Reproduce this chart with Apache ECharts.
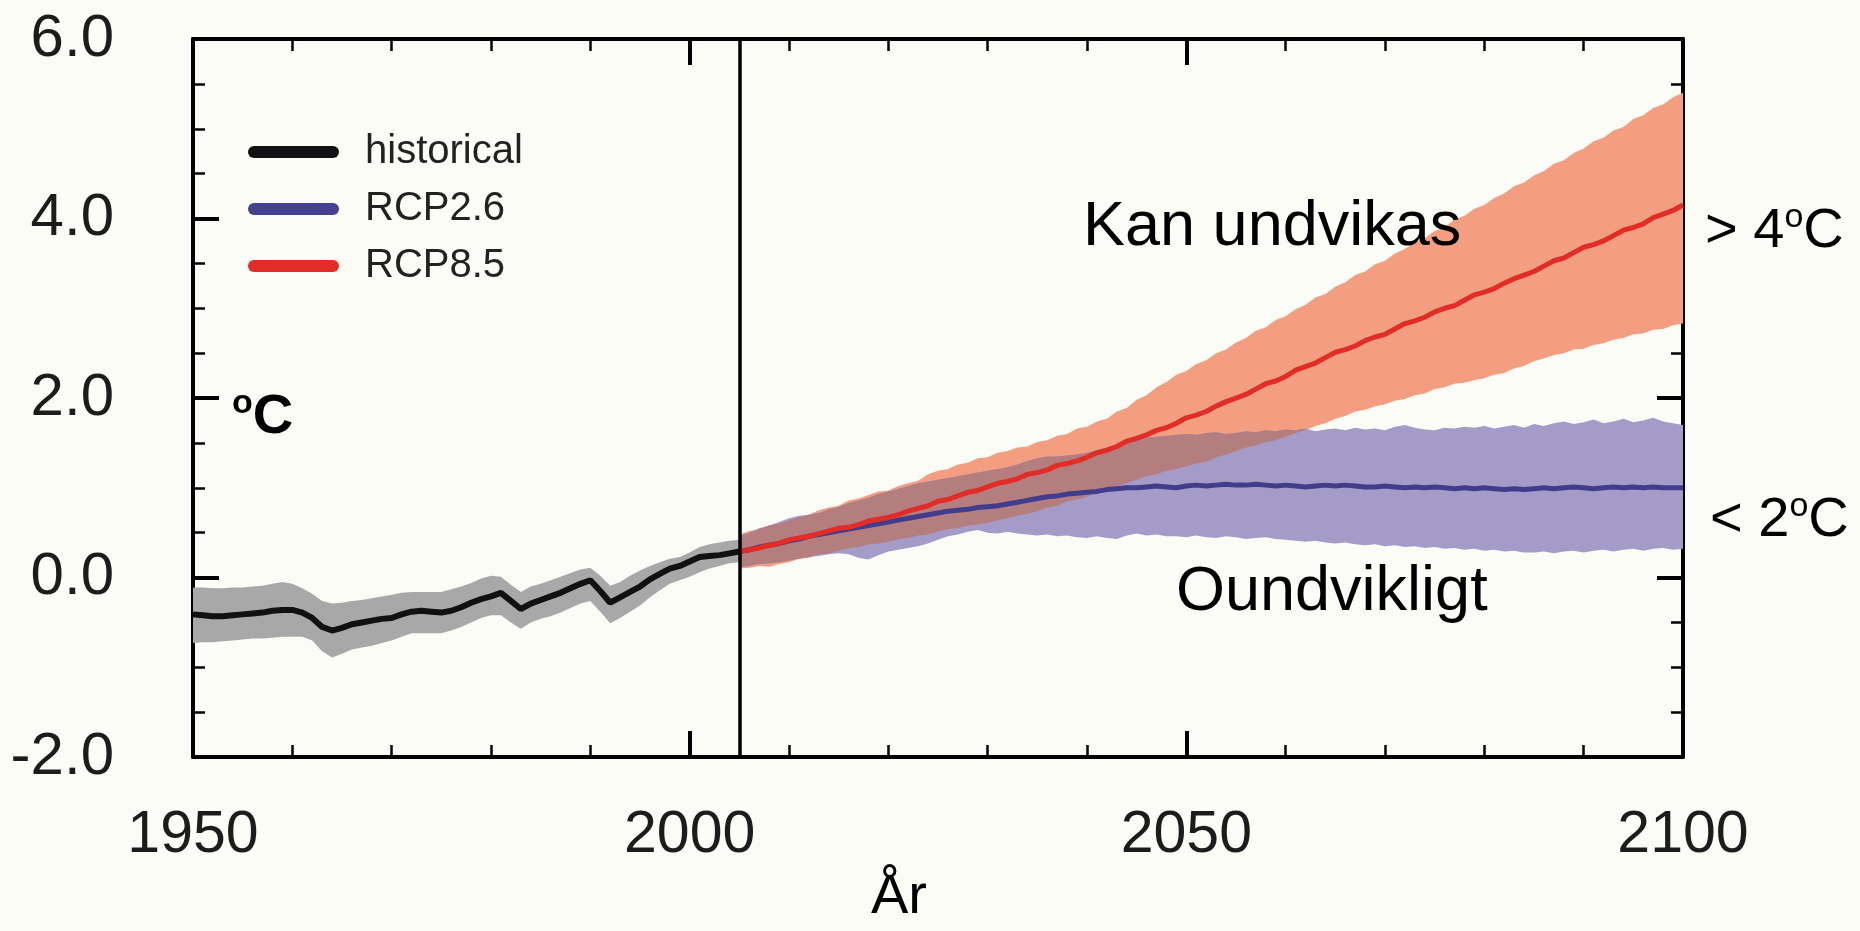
<!DOCTYPE html>
<html><head><meta charset="utf-8">
<script src="https://cdn.jsdelivr.net/npm/echarts@6/dist/echarts.min.js"></script>
<style>html,body{margin:0;padding:0;background:#fcfcf6}#c{width:1860px;height:931px}</style>
</head><body><div id="c"></div>
<script>
// ---------- data ----------
const histStart = 1950;
const histMean = [-0.41,-0.42,-0.43,-0.43,-0.42,-0.41,-0.40,-0.39,-0.37,-0.36,
 -0.36,-0.39,-0.45,-0.55,-0.59,-0.56,-0.52,-0.50,-0.48,-0.46,
 -0.45,-0.41,-0.38,-0.37,-0.38,-0.39,-0.37,-0.33,-0.28,-0.24,
 -0.21,-0.17,-0.26,-0.35,-0.29,-0.25,-0.21,-0.17,-0.12,-0.07,
 -0.03,-0.15,-0.28,-0.22,-0.16,-0.10,-0.02,0.04,0.10,0.13,
 0.18,0.23,0.24,0.25,0.27,0.29];
const histUpper = [-0.11,-0.11,-0.12,-0.12,-0.11,-0.11,-0.10,-0.09,-0.07,-0.05,
 -0.07,-0.12,-0.18,-0.26,-0.29,-0.28,-0.26,-0.25,-0.23,-0.21,
 -0.19,-0.17,-0.16,-0.16,-0.16,-0.16,-0.13,-0.10,-0.06,-0.01,
 0.02,0.01,-0.08,-0.16,-0.10,-0.07,-0.03,0.01,0.05,0.09,
 0.11,0.02,-0.09,-0.05,0.02,0.08,0.13,0.17,0.21,0.23,
 0.28,0.34,0.37,0.39,0.41,0.42];
const histLower = [-0.73,-0.72,-0.72,-0.71,-0.70,-0.69,-0.68,-0.68,-0.67,-0.66,
 -0.66,-0.66,-0.70,-0.82,-0.89,-0.85,-0.80,-0.78,-0.76,-0.73,
 -0.70,-0.66,-0.62,-0.62,-0.62,-0.62,-0.59,-0.55,-0.50,-0.45,
 -0.42,-0.42,-0.50,-0.57,-0.50,-0.46,-0.43,-0.39,-0.34,-0.29,
 -0.26,-0.38,-0.51,-0.45,-0.38,-0.31,-0.22,-0.14,-0.07,-0.03,
 0.01,0.06,0.10,0.13,0.16,0.17];

const projStart = 2005;
const rcp26Mean = [0.29,0.31,0.34,0.36,0.38,0.41,0.43,0.46,0.48,0.50,
 0.52,0.54,0.56,0.58,0.60,0.62,0.64,0.66,0.68,0.70,
 0.72,0.74,0.75,0.76,0.78,0.79,0.80,0.82,0.84,0.86,
 0.88,0.90,0.91,0.93,0.94,0.95,0.96,0.98,0.99,1.00,
 1.00,1.01,1.02,1.01,1.00,1.02,1.03,1.02,1.03,1.04,
 1.03,1.03,1.04,1.03,1.02,1.03,1.02,1.01,1.02,1.03,
 1.02,1.03,1.02,1.01,1.01,1.02,1.01,1.00,1.01,1.00,
 1.01,1.00,0.99,1.00,0.99,1.00,0.99,0.98,0.99,0.98,
 0.99,1.00,0.99,1.00,1.01,1.00,0.99,1.00,1.01,1.00,
 1.01,1.00,1.01,1.00,1.00,1.00];
const rcp26Upper = [0.46,0.50,0.55,0.58,0.62,0.66,0.69,0.70,0.72,0.76,
 0.79,0.83,0.86,0.89,0.93,0.96,0.99,1.02,1.05,1.07,
 1.09,1.11,1.13,1.15,1.17,1.19,1.21,1.23,1.26,1.30,
 1.33,1.35,1.35,1.36,1.37,1.39,1.42,1.45,1.48,1.52,
 1.55,1.56,1.57,1.58,1.59,1.60,1.59,1.61,1.62,1.60,
 1.61,1.63,1.62,1.64,1.63,1.65,1.64,1.66,1.63,1.65,
 1.66,1.64,1.67,1.65,1.66,1.64,1.68,1.70,1.67,1.65,
 1.64,1.67,1.66,1.68,1.67,1.69,1.66,1.68,1.70,1.67,
 1.71,1.69,1.72,1.74,1.71,1.73,1.76,1.72,1.74,1.77,
 1.73,1.75,1.78,1.74,1.72,1.70];
const rcp26Lower = [0.12,0.13,0.15,0.16,0.17,0.19,0.21,0.23,0.24,0.26,
 0.27,0.26,0.22,0.20,0.25,0.29,0.31,0.33,0.35,0.38,
 0.42,0.46,0.48,0.51,0.53,0.50,0.49,0.51,0.49,0.48,
 0.47,0.48,0.46,0.47,0.45,0.44,0.46,0.44,0.43,0.47,
 0.49,0.47,0.48,0.46,0.46,0.45,0.47,0.45,0.44,0.46,
 0.45,0.43,0.44,0.45,0.43,0.42,0.41,0.40,0.41,0.39,
 0.38,0.39,0.37,0.36,0.37,0.35,0.36,0.34,0.35,0.33,
 0.34,0.32,0.33,0.31,0.32,0.30,0.31,0.29,0.30,0.28,
 0.28,0.29,0.27,0.29,0.30,0.28,0.30,0.31,0.29,0.31,
 0.32,0.30,0.32,0.33,0.31,0.32];
const rcp85Mean = [0.29,0.31,0.33,0.36,0.38,0.42,0.44,0.46,0.49,0.52,
 0.55,0.56,0.59,0.63,0.65,0.67,0.70,0.74,0.77,0.80,
 0.85,0.87,0.91,0.95,0.97,1.01,1.05,1.07,1.10,1.15,
 1.17,1.20,1.25,1.27,1.30,1.34,1.39,1.42,1.46,1.52,
 1.55,1.59,1.64,1.67,1.72,1.78,1.81,1.85,1.91,1.96,
 2.00,2.04,2.10,2.16,2.19,2.24,2.31,2.35,2.39,2.45,
 2.51,2.54,2.58,2.64,2.68,2.71,2.77,2.83,2.86,2.90,
 2.96,3.00,3.03,3.09,3.15,3.18,3.22,3.28,3.33,3.37,
 3.41,3.47,3.53,3.56,3.62,3.68,3.71,3.75,3.81,3.87,
 3.90,3.94,4.01,4.05,4.09,4.15];
const rcp85Upper = [0.48,0.52,0.54,0.58,0.60,0.64,0.67,0.70,0.75,0.78,
 0.80,0.86,0.88,0.92,0.96,0.97,1.02,1.05,1.08,1.15,
 1.19,1.21,1.26,1.28,1.33,1.34,1.39,1.41,1.45,1.46,
 1.51,1.53,1.58,1.60,1.66,1.68,1.74,1.77,1.85,1.89,
 1.98,2.03,2.12,2.18,2.26,2.30,2.38,2.42,2.50,2.54,
 2.62,2.67,2.75,2.79,2.87,2.91,2.99,3.04,3.12,3.16,
 3.24,3.29,3.37,3.41,3.49,3.53,3.61,3.66,3.74,3.78,
 3.86,3.90,3.99,4.03,4.11,4.15,4.23,4.28,4.36,4.40,
 4.48,4.53,4.61,4.65,4.73,4.78,4.86,4.90,4.98,5.02,
 5.11,5.15,5.23,5.27,5.35,5.40];
const rcp85Lower = [0.10,0.11,0.13,0.12,0.15,0.17,0.21,0.22,0.26,0.27,
 0.30,0.33,0.34,0.37,0.38,0.40,0.43,0.44,0.47,0.48,
 0.51,0.54,0.55,0.58,0.59,0.61,0.64,0.66,0.69,0.71,
 0.74,0.78,0.80,0.85,0.87,0.90,0.95,0.97,1.02,1.05,
 1.09,1.13,1.15,1.19,1.21,1.24,1.27,1.29,1.34,1.37,
 1.41,1.45,1.47,1.51,1.53,1.57,1.61,1.64,1.69,1.72,
 1.77,1.80,1.85,1.87,1.91,1.93,1.97,1.99,2.03,2.05,
 2.10,2.12,2.16,2.17,2.20,2.22,2.26,2.28,2.33,2.36,
 2.41,2.44,2.48,2.50,2.54,2.55,2.59,2.61,2.65,2.67,
 2.71,2.72,2.76,2.77,2.81,2.83];

const seriesNames = ['historical', 'RCP2.6', 'RCP8.5'];
const xTickValues = [1950, 2000, 2050, 2100];
const yTickValues = [-2, 0, 2, 4, 6];
const dividerYear = 2005;
const xAxisTitle = 'År';

// ---------- build ----------
const FONT = "'Liberation Sans', Arial, Helvetica, sans-serif";
const histYears = histMean.map((_, i) => histStart + i);
const projYears = rcp26Mean.map((_, i) => projStart + i);
const pairs = (years, vals) => years.map((y, i) => [y, vals[i]]);

// overlap of the two projection ranges (derived from the arrays above)
const ovLo = projYears.map((_, i) => Math.max(rcp26Lower[i], rcp85Lower[i]));
const ovUp = projYears.map((_, i) => Math.min(rcp26Upper[i], rcp85Upper[i]));

function bandPolys(years, lo, up, api) {
  const runs = []; let cur = null;
  years.forEach((y, i) => {
    if (up[i] > lo[i]) { if (!cur) { cur = []; runs.push(cur); } cur.push(i); }
    else cur = null;
  });
  return runs.map(run => {
    const top = run.map(i => api.coord([years[i], up[i]]));
    const bot = run.slice().reverse().map(i => api.coord([years[i], lo[i]]));
    return top.concat(bot);
  });
}
function bandSeries(years, lo, up, color) {
  return {
    type: 'custom', coordinateSystem: 'cartesian2d', silent: true, clip: true,
    data: [[years[0], lo[0]]],
    renderItem: (p, api) => ({
      type: 'group',
      children: bandPolys(years, lo, up, api).map(pts => ({
        type: 'polygon', shape: { points: pts }, style: { fill: color }
      }))
    }),
    z: 1
  };
}

const tickLine = { color: '#000', width: 4 };
const minorLine = { color: '#000', width: 2.5 };
function xAx(pos, showLabel) {
  return {
    type: 'value', position: pos, min: 1950, max: 2100, interval: 50,
    axisLine: { show: true, onZero: false, lineStyle: { color: '#000', width: 4 } },
    axisTick: { show: true, inside: true, length: 26, lineStyle: tickLine },
    minorTick: { show: true, splitNumber: 5, length: 12, lineStyle: minorLine },
    splitLine: { show: false }, minorSplitLine: { show: false },
    axisLabel: {
      show: showLabel, margin: 49, fontSize: 59, fontFamily: FONT, color: '#1c1c1c',
      customValues: xTickValues, formatter: v => String(v)
    },
    name: showLabel ? xAxisTitle : '', nameLocation: 'middle', nameGap: 90,
    nameTextStyle: { fontSize: 56, fontFamily: FONT, color: '#000', padding: [0, 78, 0, 0] }
  };
}
function yAx(pos, showLabel) {
  return {
    type: 'value', position: pos, min: -2, max: 6, interval: 2,
    axisLine: { show: true, onZero: false, lineStyle: { color: '#000', width: 4 } },
    axisTick: { show: true, inside: true, length: 26, lineStyle: tickLine },
    minorTick: { show: true, splitNumber: 4, length: 12, lineStyle: minorLine },
    splitLine: { show: false }, minorSplitLine: { show: false },
    axisLabel: {
      show: showLabel, margin: 79, fontSize: 60, fontFamily: FONT, color: '#1c1c1c',
      customValues: yTickValues, formatter: v => v.toFixed(1)
    }
  };
}

const sup = (size, bold, pad) => ({ fontSize: size, fontFamily: FONT, fontWeight: bold ? 'bold' : 'normal', fill: '#000', padding: [0, 0, pad, 0] });

const option = {
  backgroundColor: '#fcfcf6',
  animation: false,
  grid: { left: 193, right: 177, top: 39, bottom: 141, containLabel: false },
  xAxis: [xAx('bottom', true), xAx('top', false)],
  yAxis: [yAx('left', true), yAx('right', false)],
  legend: {
    data: seriesNames, orient: 'vertical', left: 243, top: 127,
    itemWidth: 91, itemHeight: 12, itemGap: 17, selectedMode: false,
    icon: 'path://M6,0L85,0A6,6,0,0,1,85,12L6,12A6,6,0,0,1,6,0Z',
    textStyle: { fontSize: 40, fontFamily: FONT, color: '#222', padding: [0, 0, 0, 21] }
  },
  series: [
    bandSeries(histYears, histLower, histUpper, '#a8a8a8'),
    bandSeries(projYears, rcp85Lower, rcp85Upper, '#f39e80'),
    bandSeries(projYears, rcp26Lower, rcp26Upper, '#a49bc9'),
    bandSeries(projYears, ovLo, ovUp, '#b47d7e'),
    {
      name: seriesNames[0], type: 'line', data: pairs(histYears, histMean),
      showSymbol: false, silent: true, color: '#111', z: 3,
      lineStyle: { color: '#111', width: 6 },
      markLine: {
        silent: true, symbol: ['none', 'none'], label: { show: false },
        lineStyle: { color: '#000', width: 3.5, type: 'solid' },
        data: [{ xAxis: dividerYear }]
      }
    },
    {
      name: seriesNames[1], type: 'line', data: pairs(projYears, rcp26Mean),
      showSymbol: false, silent: true, color: '#45428f', z: 3,
      lineStyle: { color: '#403d8c', width: 5 }
    },
    {
      name: seriesNames[2], type: 'line', data: pairs(projYears, rcp85Mean),
      showSymbol: false, silent: true, color: '#e22d27', z: 4,
      lineStyle: { color: '#e22d27', width: 5 }
    }
  ],
  graphic: [
    { type: 'text', x: 1083, y: 228, silent: true, z: 100,
      style: { text: 'Kan undvikas', fontSize: 63, fontFamily: FONT, fill: '#000', verticalAlign: 'middle' } },
    { type: 'text', x: 1176, y: 593, silent: true, z: 100,
      style: { text: 'Oundvikligt', fontSize: 63, fontFamily: FONT, fill: '#000', verticalAlign: 'middle' } },
    { type: 'text', x: 1705, y: 232, silent: true, z: 100,
      style: { text: '> 4{s|o}C', fontSize: 56, fontFamily: FONT, fill: '#000', verticalAlign: 'middle',
        rich: { s: sup(34, false, 29) } } },
    { type: 'text', x: 1710, y: 521, silent: true, z: 100,
      style: { text: '< 2{s|o}C', fontSize: 56, fontFamily: FONT, fill: '#000', verticalAlign: 'middle',
        rich: { s: sup(34, false, 29) } } },
    { type: 'text', x: 232, y: 418, silent: true, z: 100,
      style: { text: '{s|o}C', fontSize: 56, fontWeight: 'bold', fontFamily: FONT, fill: '#000', verticalAlign: 'middle',
        rich: { s: sup(34, true, 29) } } }
  ]
};

const chart = echarts.init(document.getElementById('c'), null, { renderer: 'canvas' });
chart.setOption(option);
</script>
</body></html>
